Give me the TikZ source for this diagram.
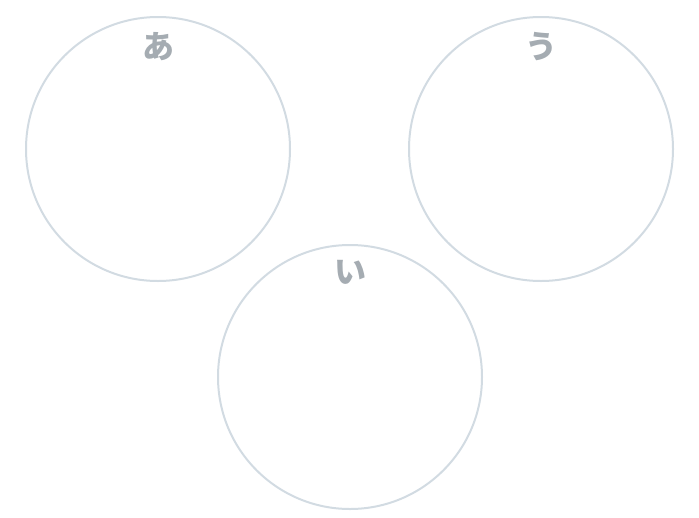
\documentclass[tikz,border=0pt]{standalone}
\usepackage{fontspec}
\newfontfamily\cjk{Noto Sans CJK JP}
\usepackage{tikz}
\usetikzlibrary{positioning}
\definecolor{ringgray}{RGB}{210,219,226}
\definecolor{labelgray}{RGB}{165,172,178}

\begin{document}
\begin{tikzpicture}[x=1pt,y=-1pt,
          ring/.style={circle,draw=ringgray,line width=2pt,minimum size=264pt,inner sep=0pt},
          lbl/.style={font=\cjk\bfseries\fontsize{32}{32}\selectfont,text=labelgray,inner sep=0pt}]
        \useasboundingbox (0,0) rectangle (699,517);
        % rings
        \node[ring] (a) at (158,149) {};
        \node[ring] (u) at (541,149) {};
        \node[ring] (i) at (350,377) {};
        % labels
        \node[lbl,below=16pt of a.north] (la) {あ};
        \node[lbl,below=16pt of u.north] (lu) {う};
        \node[lbl,below=16pt of i.north] (li) {い};
      \end{tikzpicture}
\end{document}
